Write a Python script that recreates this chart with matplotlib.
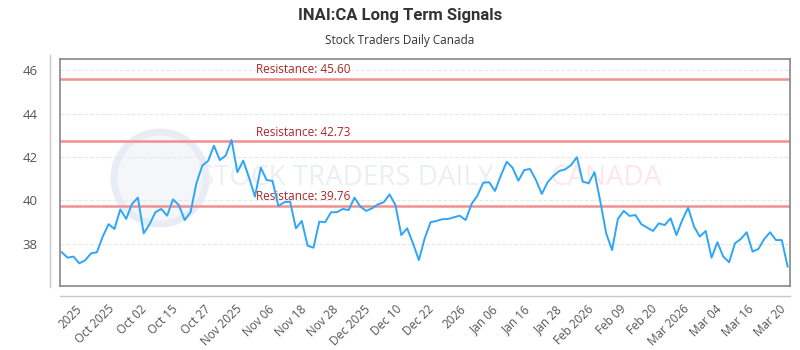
import numpy as np
import matplotlib
matplotlib.use("Agg")
import matplotlib.pyplot as plt
from matplotlib.lines import Line2D
from matplotlib.patches import Circle

# closing prices, one per trading day
prices = [
    37.62, 37.37, 37.42, 37.11, 37.25, 37.57, 37.62, 38.34, 38.91, 38.69,
    39.59, 39.15, 39.84, 40.13, 38.49, 38.91, 39.46, 39.61, 39.30, 40.05,
    39.79, 39.10, 39.46, 40.79, 41.60, 41.82, 42.52, 41.86, 42.06, 42.78,
    41.30, 41.83, 41.05, 40.18, 41.51, 40.94, 40.90, 39.75, 39.92, 39.95,
    38.72, 39.06, 37.92, 37.83, 39.03, 39.00, 39.46, 39.46, 39.61, 39.56,
    40.13, 39.72, 39.52, 39.64, 39.82, 39.92, 40.28, 39.79, 38.41, 38.72,
    38.03, 37.26, 38.26, 39.00, 39.06, 39.14, 39.15, 39.23, 39.30, 39.10,
    39.84, 40.22, 40.82, 40.84, 40.44, 41.14, 41.78, 41.51, 40.91, 41.40,
    41.45, 40.94, 40.30, 40.84, 41.14, 41.36, 41.43, 41.63, 41.99, 40.87,
    40.79, 41.30, 39.95, 38.49, 37.72, 39.15, 39.52, 39.29, 39.33, 38.91,
    38.75, 38.60, 38.95, 38.87, 39.18, 38.41, 39.10, 39.67, 38.80, 38.34,
    38.60, 37.37, 38.08, 37.42, 37.16, 38.03, 38.23, 38.54, 37.65, 37.77,
    38.23, 38.54, 38.18, 38.18, 36.96,
]

resistance = [45.60, 42.73, 39.76]

tick_labels = [
    "2025", "Oct 2025", "Oct 02", "Oct 15", "Oct 27", "Nov 2025", "Nov 06",
    "Nov 18", "Nov 28", "Dec 2025", "Dec 10", "Dec 22", "2026", "Jan 06",
    "Jan 16", "Jan 28", "Feb 2026", "Feb 09", "Feb 20", "Mar 2026",
    "Mar 04", "Mar 16", "Mar 20",
]

plt.rcParams['font.family'] = ['Open Sans', 'DejaVu Sans']

fig = plt.figure(figsize=(8, 3.5), dpi=100)
ax = fig.add_axes([0.075, 0.183, 0.9125, 0.648])
ax.patch.set_alpha(0)

x = np.arange(len(prices))

# watermark (logo circle + faint text)
fig.add_artist(Circle((1.6, 1.72), 0.46, transform=fig.dpi_scale_trans,
                      facecolor='#f4f6fa', edgecolor='#e8edf5', lw=5,
                      zorder=-5))
ax.text(0.19, 0.475, "STOCK TRADERS DAILY", transform=ax.transAxes,
        fontsize=20, color='#ebeff5', ha='left', va='center', zorder=0)
ax.text(0.672, 0.475, "CANADA", transform=ax.transAxes,
        fontsize=20, color='#fde7e7', ha='left', va='center', zorder=0)

for r in resistance:
    ax.axhline(r, color='#f09090', lw=1.8, zorder=2)
    ax.text(33.2, r + 0.12, f"Resistance: {r:.2f}", color='#a8262b',
            fontsize=8.5, ha='left', va='bottom', zorder=3)

ax.plot(x, prices, color='#2ea6f7', lw=1.4, zorder=4)

ax.set_xlim(-0.3, 124.4)
ax.set_ylim(36.07, 46.5)
ax.set_yticks([38, 40, 42, 44, 46])
ax.grid(axis='y', color='#e8e8e8', linestyle='--', lw=0.8)
ax.set_axisbelow(True)

ax.set_xticks(np.linspace(2.4, 122.5, len(tick_labels)))
ax.set_xticklabels(tick_labels, rotation=45, ha='right',
                   rotation_mode='anchor', fontsize=8.5, color='#555555')
ax.tick_params(axis='x', length=0, pad=12)
ax.tick_params(axis='y', length=0, pad=16, labelsize=9.5, labelcolor='#555555')
ax.set_ylabel("Price", fontsize=10, color='#444444', labelpad=14)

for s in ax.spines.values():
    s.set_color('#888888')
    s.set_linewidth(1.2)

# detached axis lines
fig.add_artist(Line2D([0.0625, 0.0625], [0.18, 0.843], color='#c8c8c8', lw=1))
fig.add_artist(Line2D([0.075, 0.9875], [0.154, 0.154], color='#c8c8c8', lw=1))

fig.text(0.5, 0.955, "INAI:CA Long Term Signals", ha='center', va='center',
         fontsize=12, fontweight='bold', color='#333333',
         family=['Roboto', 'DejaVu Sans'])
fig.text(0.5, 0.885, "Stock Traders Daily Canada", ha='center', va='center',
         fontsize=8.5, color='#333333')

fig.savefig("out.png", dpi=100)
